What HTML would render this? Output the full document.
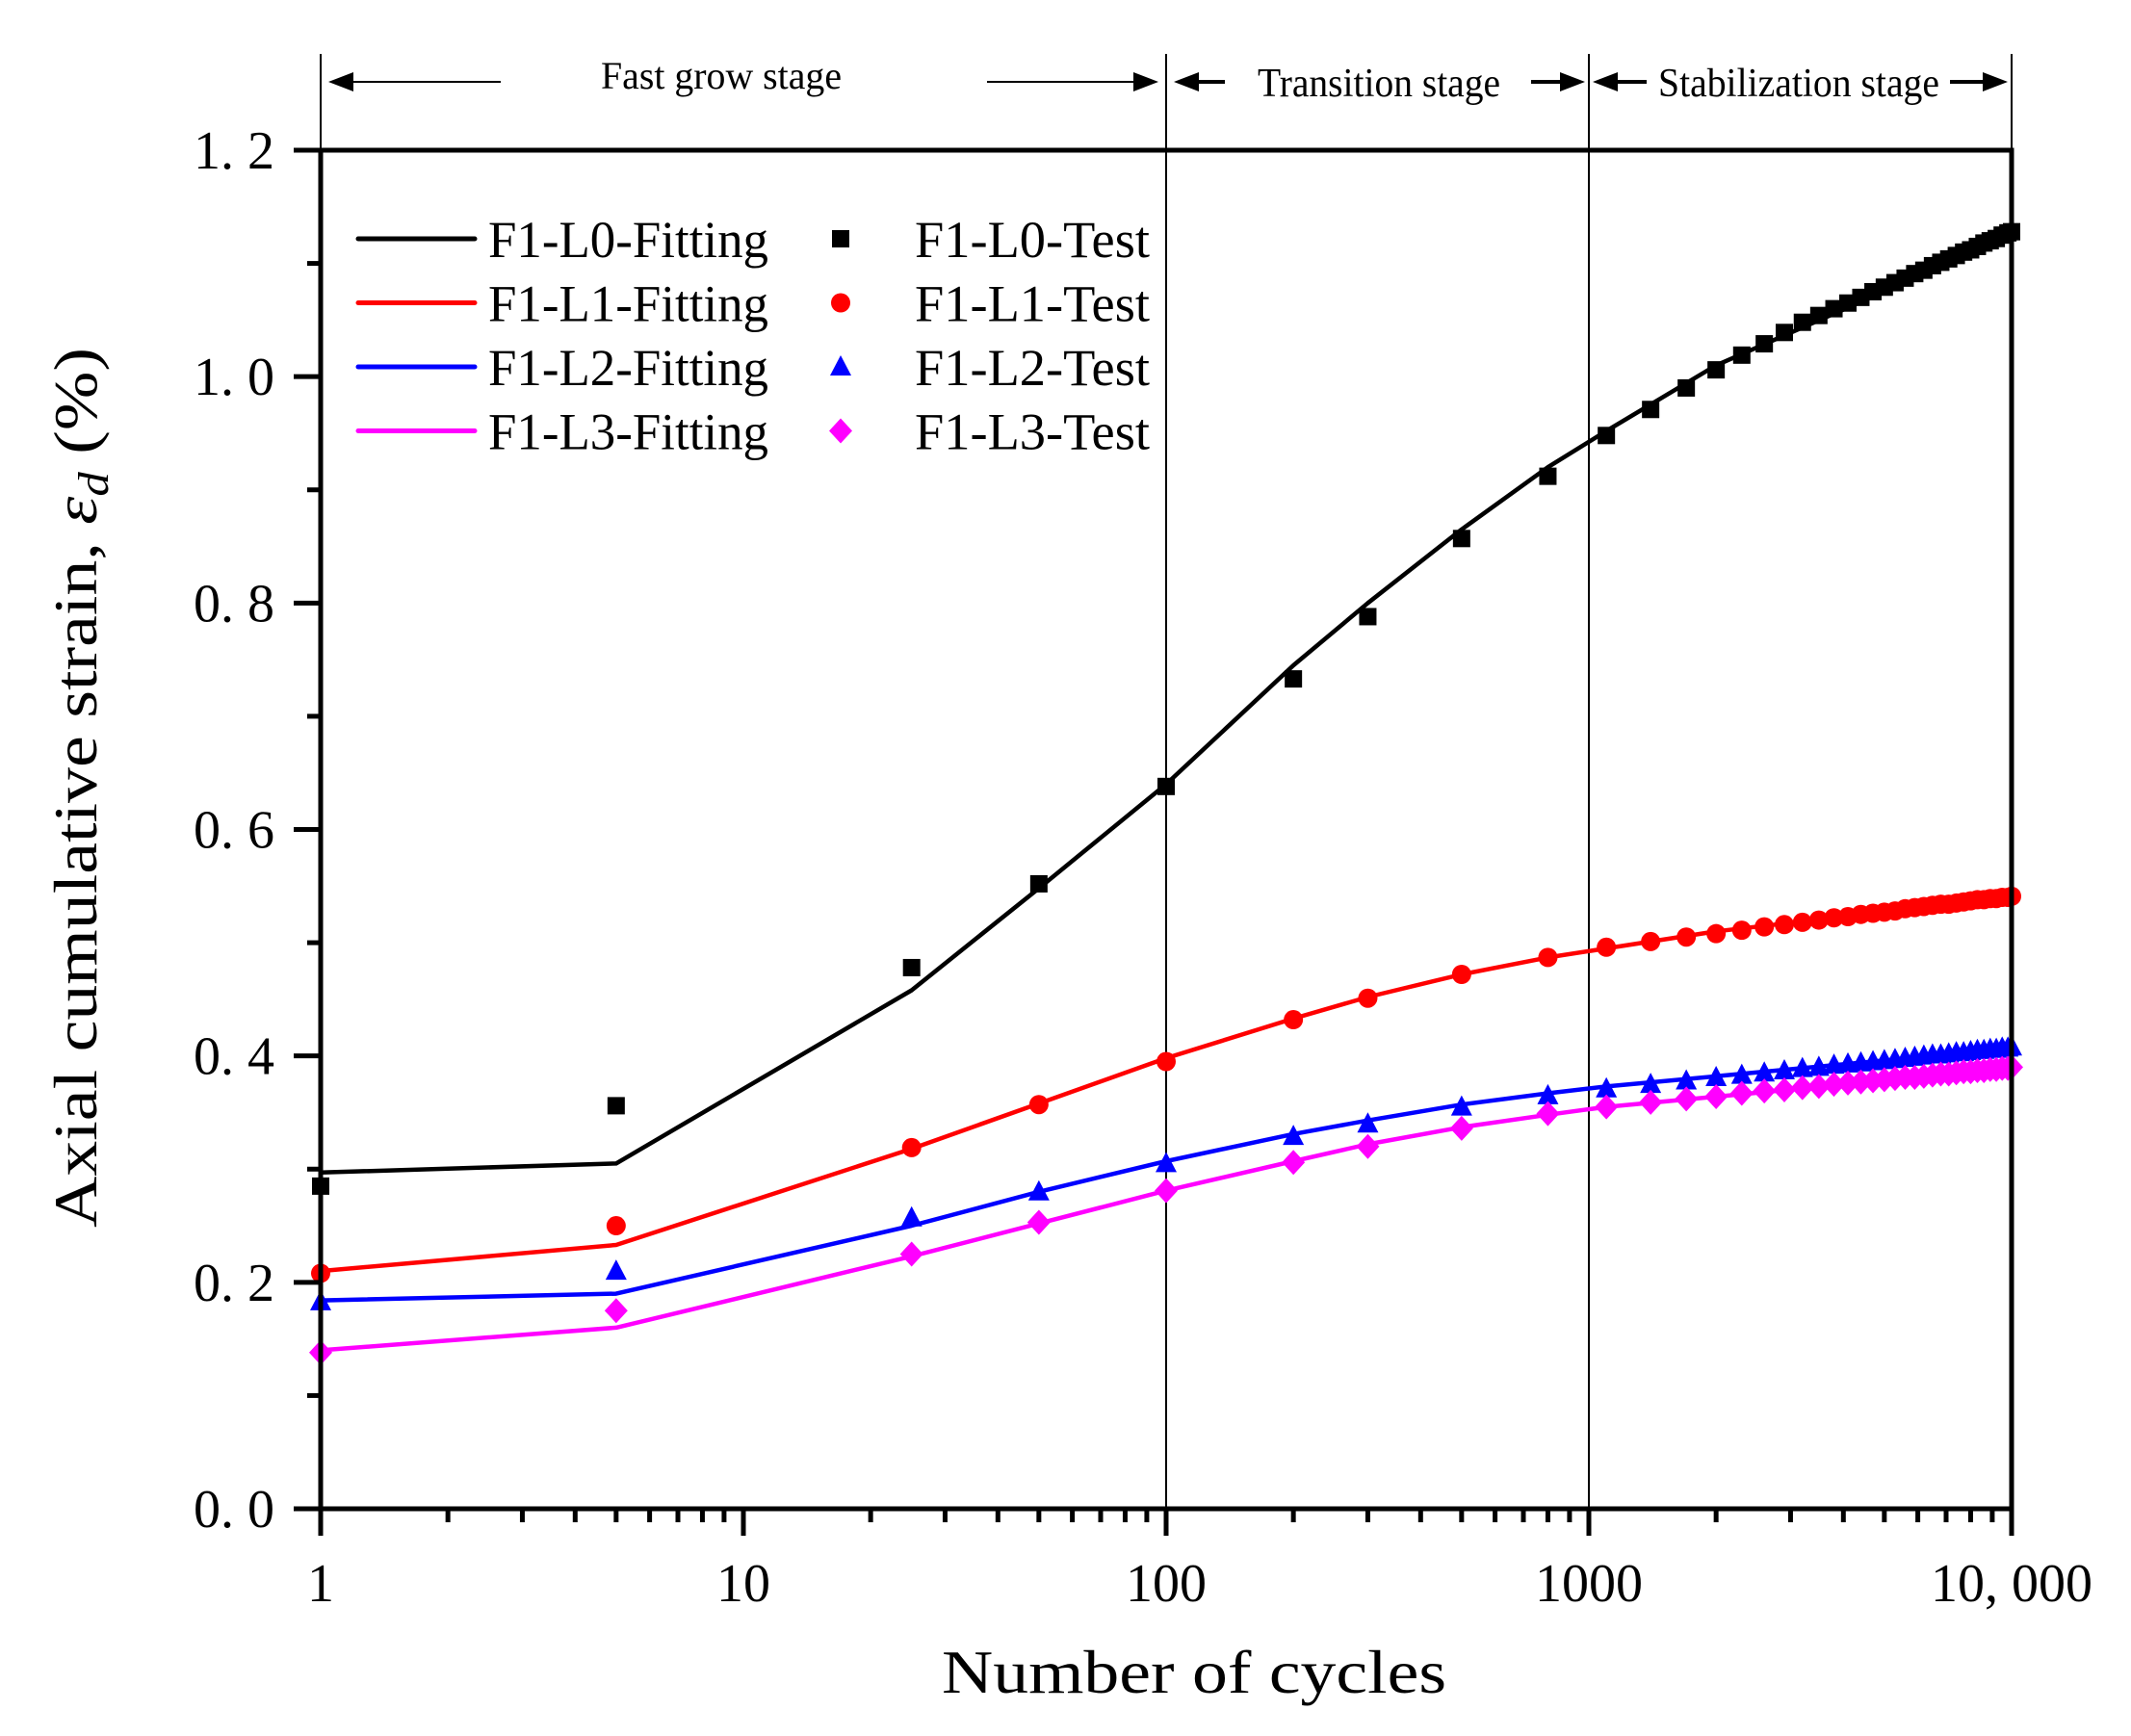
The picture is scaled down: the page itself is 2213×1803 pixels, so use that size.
<!DOCTYPE html>
<html>
<head>
<meta charset="utf-8">
<style>
  html,body{margin:0;padding:0;background:#fff;}
  svg{display:block;}
  text{font-family:"Liberation Serif","DejaVu Serif",serif;fill:#000;}
</style>
</head>
<body>
<svg id="chart" width="2213" height="1803" viewBox="0 0 2213 1803" xmlns="http://www.w3.org/2000/svg">
  <rect x="0" y="0" width="2213" height="1803" fill="#fff"/>
  <g id="stages"></g>
  <g id="grid"></g>
  <g id="series"></g>
  <g id="axes"></g>
  <g id="legend"></g>
  <text x="1240" y="1758" font-size="64" text-anchor="middle" textLength="524" lengthAdjust="spacingAndGlyphs">Number of cycles</text>
  <text transform="translate(100,818) rotate(-90)" font-size="64" text-anchor="middle" textLength="914" lengthAdjust="spacingAndGlyphs">Axial cumulative strain, <tspan font-style="italic">ε</tspan><tspan font-style="italic" font-size="44" dy="12">d</tspan><tspan dy="-12"> (%)</tspan></text>
</svg>
<script>
const fitN = [1,5,25,50,100,200,300,500,800,1100,2000,5000,10000];
const fitL0 = [0.297,0.305,0.458,0.548,0.640,0.745,0.800,0.865,0.920,0.952,1.010,1.075,1.130];
const fitL1 = [0.210,0.233,0.318,0.358,0.398,0.433,0.452,0.472,0.487,0.495,0.510,0.527,0.540];
const fitL2 = [0.184,0.190,0.250,0.280,0.307,0.331,0.343,0.357,0.367,0.373,0.382,0.396,0.406];
const fitL3 = [0.140,0.160,0.223,0.252,0.281,0.307,0.322,0.337,0.348,0.355,0.364,0.378,0.390];

const testN = [1,5,25,50,100,200,300,500,800,1100,1400,1700,2000,2300,2600,2900,3200,3500,3800,4100,4400,4700,5000,5300,5600,5900,6200,6500,6800,7100,7400,7700,8000,8300,8600,8900,9200,9500,9800,10000];
const testL0 = [0.285,0.356,0.478,0.552,0.638,0.733,0.788,0.857,0.912,0.948,0.971,0.990,1.006,1.019,1.029,1.039,1.048,1.054,1.060,1.065,1.070,1.075,1.079,1.083,1.087,1.091,1.094,1.098,1.101,1.104,1.107,1.110,1.112,1.115,1.118,1.120,1.122,1.125,1.127,1.128];
const testL1 = [0.208,0.250,0.319,0.357,0.395,0.432,0.451,0.472,0.487,0.496,0.501,0.505,0.508,0.511,0.514,0.516,0.518,0.520,0.522,0.523,0.525,0.526,0.527,0.528,0.530,0.531,0.532,0.533,0.534,0.534,0.535,0.536,0.537,0.538,0.538,0.539,0.539,0.540,0.540,0.541];
const testL2 = [0.183,0.210,0.257,0.280,0.305,0.329,0.340,0.355,0.365,0.371,0.375,0.378,0.381,0.383,0.385,0.387,0.389,0.390,0.392,0.393,0.394,0.395,0.396,0.397,0.398,0.399,0.400,0.401,0.401,0.402,0.403,0.403,0.404,0.405,0.405,0.406,0.406,0.407,0.407,0.408];
const testL3 = [0.138,0.175,0.225,0.253,0.281,0.306,0.320,0.336,0.349,0.355,0.359,0.362,0.364,0.367,0.369,0.370,0.372,0.373,0.375,0.376,0.377,0.378,0.379,0.380,0.381,0.381,0.382,0.383,0.384,0.384,0.385,0.386,0.386,0.387,0.387,0.388,0.388,0.389,0.389,0.390];

const xTickVals = [1,10,100,1000,10000];
const xTickLabels = ["1","10","100","1000","10, 000"];
const yTickVals = [0,0.2,0.4,0.6,0.8,1.0,1.2];
const yTickLabels = ["0. 0","0. 2","0. 4","0. 6","0. 8","1. 0","1. 2"];
const stageBounds = [1,100,1000,10000];
const stageNames = ["Fast grow stage","Transition stage","Stabilization stage"];
const legendNames = ["F1-L0","F1-L1","F1-L2","F1-L3"];

const NS = "http://www.w3.org/2000/svg";
const X0 = 333, X1 = 2089, Y0 = 1567, Y1 = 156;
const xMinLog = 0, xMaxLog = 4, yMin = 0, yMax = 1.2;
function sx(n){ return X0 + (Math.log10(n) - xMinLog) / (xMaxLog - xMinLog) * (X1 - X0); }
function sy(v){ return Y0 - (v - yMin) / (yMax - yMin) * (Y0 - Y1); }
function mk(tag, attrs, parent){
  const e = document.createElementNS(NS, tag);
  for (const k in attrs) e.setAttribute(k, attrs[k]);
  parent.appendChild(e);
  return e;
}
const colors = ["#000000","#ff0000","#0000ff","#ff00ff"];
const shapes = ["square","circle","triangle","diamond"];

function marker(shape, cx, cy, color, parent){
  let e;
  if (shape === "square") e = mk("rect",{x:cx-9,y:cy-9,width:18,height:18,fill:color},parent);
  else if (shape === "circle") e = mk("circle",{cx:cx,cy:cy,r:10,fill:color},parent);
  else if (shape === "triangle") e = mk("polygon",{points:`${cx},${cy-12} ${cx-11},${cy+9} ${cx+11},${cy+9}`,fill:color},parent);
  else e = mk("polygon",{points:`${cx},${cy-13} ${cx+12},${cy} ${cx},${cy+13} ${cx-12},${cy}`,fill:color},parent);
  return e;
}

// stages
const stg = document.getElementById("stages");
const grid = document.getElementById("grid");
stageBounds.forEach((b,i)=>{
  const x = sx(b);
  const l = mk("line",{x1:x,y1:56,x2:x,y2:(i===0||i===3)?Y1:Y0,stroke:"#000","stroke-width":2},grid);
  
  
});
const arrowY = 85;
function arrowHead(x, dir, parent){
  // dir -1 points left, +1 points right; tip at x
  const p = mk("polygon",{points:`${x},${arrowY} ${x-dir*26},${arrowY-10} ${x-dir*26},${arrowY+10}`,fill:"#000"},parent);
  return p;
}
// stage 1
const s1a = sx(1)+8, s1b = sx(100)-8;
mk("line",{x1:s1a+20,y1:arrowY,x2:520,y2:arrowY,stroke:"#000","stroke-width":2},stg);
arrowHead(s1a,-1,stg);
mk("line",{x1:1025,y1:arrowY,x2:s1b-20,y2:arrowY,stroke:"#000","stroke-width":2},stg);
arrowHead(s1b,1,stg);
let t = mk("text",{x:749,y:92,"font-size":40,"text-anchor":"middle",textLength:250,lengthAdjust:"spacingAndGlyphs"},stg);
t.textContent = stageNames[0];


// stage 2
const s2a = sx(100)+8, s2b = sx(1000)-4;
mk("line",{x1:s2a+20,y1:arrowY,x2:1272,y2:arrowY,stroke:"#000","stroke-width":4},stg);
arrowHead(s2a,-1,stg);
mk("line",{x1:1590,y1:arrowY,x2:s2b-20,y2:arrowY,stroke:"#000","stroke-width":4},stg);
arrowHead(s2b,1,stg);
t = mk("text",{x:1432,y:100,"font-size":42,"text-anchor":"middle",textLength:252,lengthAdjust:"spacingAndGlyphs"},stg);
t.textContent = stageNames[1];


// stage 3
const s3a = sx(1000)+4, s3b = sx(10000)-4;
mk("line",{x1:s3a+20,y1:arrowY,x2:1710,y2:arrowY,stroke:"#000","stroke-width":4},stg);
arrowHead(s3a,-1,stg);
mk("line",{x1:2025,y1:arrowY,x2:s3b-20,y2:arrowY,stroke:"#000","stroke-width":4},stg);
arrowHead(s3b,1,stg);
t = mk("text",{x:1868,y:100,"font-size":42,"text-anchor":"middle",textLength:292,lengthAdjust:"spacingAndGlyphs"},stg);
t.textContent = stageNames[2];



// series
const ser = document.getElementById("series");
const fits = [fitL0,fitL1,fitL2,fitL3];
const tests = [testL0,testL1,testL2,testL3];
fits.forEach((arr,i)=>{
  const pts = fitN.map((n,j)=>`${sx(n).toFixed(1)},${sy(arr[j]).toFixed(1)}`).join(" ");
  const pl = mk("polyline",{points:pts,fill:"none",stroke:colors[i],"stroke-width":4.5,"stroke-linejoin":"round"},ser);
  
  
});
tests.forEach((arr,i)=>{
  const g = mk("g",{},ser);
  
  
  testN.forEach((n,j)=>{
    const m = marker(shapes[i], sx(n), sy(arr[j]), colors[i], g);
    
    
  });
});

// axes
const ax = document.getElementById("axes");
mk("rect",{x:X0,y:Y1,width:X1-X0,height:Y0-Y1,fill:"none",stroke:"#000","stroke-width":5},ax);
xTickVals.forEach((v,i)=>{
  const x = sx(v);
  mk("line",{x1:x,y1:Y0,x2:x,y2:Y0+28,stroke:"#000","stroke-width":5},ax);
  const tl = mk("text",{x:x,y:1663,"font-size":56,"text-anchor":"middle"},ax);
  tl.textContent = xTickLabels[i];
  
  
  if (i < xTickVals.length-1){
    for (let k=2;k<=9;k++){
      const xm = sx(v*k);
      mk("line",{x1:xm,y1:Y0,x2:xm,y2:Y0+14,stroke:"#000","stroke-width":5},ax);
    }
  }
});
yTickVals.forEach((v,i)=>{
  const y = sy(v);
  mk("line",{x1:X0-28,y1:y,x2:X0,y2:y,stroke:"#000","stroke-width":5},ax);
  const tl = mk("text",{x:285,y:y+19,"font-size":56,"text-anchor":"end"},ax);
  tl.textContent = yTickLabels[i];
  
  
  if (i < yTickVals.length-1){
    const ym = sy(v+0.1);
    mk("line",{x1:X0-14,y1:ym,x2:X0,y2:ym,stroke:"#000","stroke-width":5},ax);
  }
});

// legend
const lg = document.getElementById("legend");
legendNames.forEach((nm,i)=>{
  const y = 248 + i*66.5;
  const ln = mk("line",{x1:372,y1:y,x2:493,y2:y,stroke:colors[i],"stroke-width":5,"stroke-linecap":"round"},lg);
  
  
  const t1 = mk("text",{x:507,y:y+19,"font-size":54,textLength:291,lengthAdjust:"spacingAndGlyphs"},lg);
  t1.textContent = nm + "-Fitting";
  
  
  const m = marker(shapes[i], 873, y, colors[i], lg);
  
  
  const t2 = mk("text",{x:950,y:y+19,"font-size":54,textLength:244,lengthAdjust:"spacingAndGlyphs"},lg);
  t2.textContent = nm + "-Test";
  
  
});
</script>
</body>
</html>
